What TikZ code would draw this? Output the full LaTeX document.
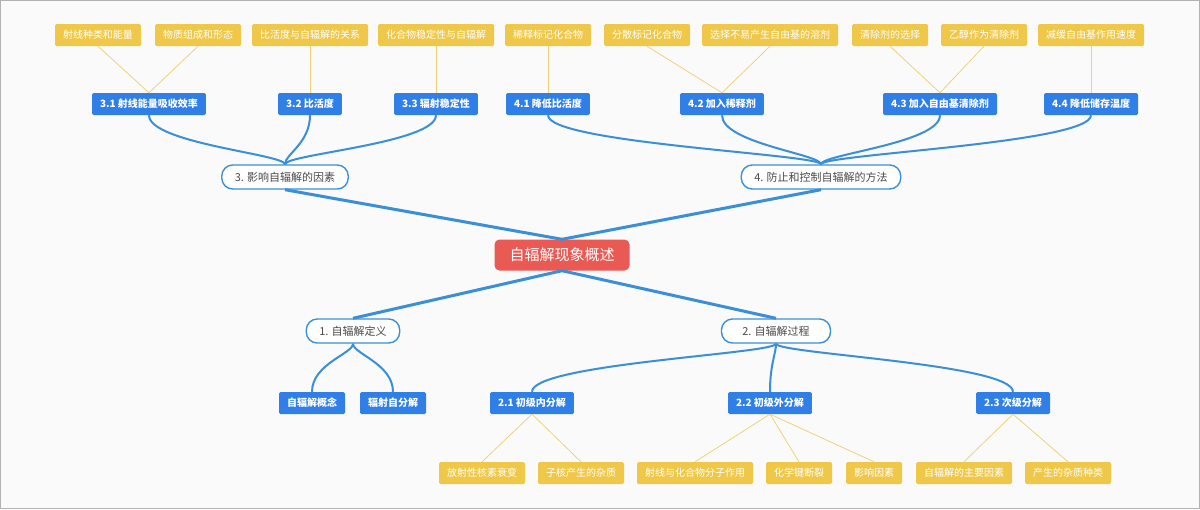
\documentclass[tikz,border=0pt]{standalone}
\usepackage{fontspec}
\setmainfont{Noto Sans CJK SC}
\usepackage{tikz}
\usetikzlibrary{positioning,
				calc}

\definecolor{rootred}{HTML}{E95A54}
\definecolor{topicblue}{HTML}{3A8FD6}
\definecolor{branchblue}{HTML}{2F7FE6}
\definecolor{leafyellow}{HTML}{EFC84A}
\definecolor{leafline}{HTML}{F0D27E}
\definecolor{pilltext}{HTML}{4A4A4A}

\begin{document}
\begin{tikzpicture}[x=1pt,y=-1pt,
		root/.style={fill=rootred, text=white, rounded corners=5pt,
			font=\fontsize{15}{18}\selectfont, minimum height=31pt, inner xsep=15pt},
		topic/.style={draw=topicblue, line width=1.4pt, fill=white, text=pilltext,
			rounded corners=11pt, font=\fontsize{11}{13}\selectfont,
			minimum height=24pt, inner xsep=13pt},
		branch/.style={fill=branchblue, text=white, rounded corners=1.5pt,
			font=\fontsize{10}{12}\selectfont\bfseries, minimum height=22pt, inner xsep=8pt},
		leaf/.style={fill=leafyellow, text=white, rounded corners=1.5pt,
			font=\fontsize{10}{12}\selectfont, minimum height=22pt, inner xsep=8pt},
		main link/.style={draw=topicblue, line width=3pt},
		branch link/.style={draw=topicblue, line width=2pt},
		leaf link/.style={draw=leafline, line width=0.8pt}
		]
		% frame
		\useasboundingbox (0,0) rectangle (1200,509);
		\fill[gray!4] (0,0) rectangle (1200,509);
		\draw[gray!60, line width=1.2pt] (0.6,0.6) rectangle (1199.4,508.4);

		% centre and topics
		\node[root] (root) at (562,255) {自辐解现象概述};
		\node[topic] (t3) at (285,177) {3. 影响自辐解的因素};
		\node[topic] (t4) at (821,177) {4. 防止和控制自辐解的方法};
		\node[topic] (t1) at (353,331) {1. 自辐解定义};
		\node[topic, minimum width=109pt] (t2) at (776,331) {2. 自辐解过程};

		\foreach \t in {t3, t4}
			\draw[main link] (root.north) -- (\t.south);
		\foreach \t in {t1, t2}
			\draw[main link] (root.south) -- (\t.north);

		% branches
		\foreach \name/\x/\y/\txt in {b31/149/104/3.1 射线能量吸收效率, b32/310/104/3.2 比活度,
				b33/436/104/3.3 辐射稳定性, b41/548/104/4.1 降低比活度,
				b42/722/104/4.2 加入稀释剂, b43/940/104/4.3 加入自由基清除剂,
				b44/1091/104/4.4 降低储存温度, b11/312/403/自辐解概念,
				b12/393/403/辐射自分解, b21/532/403/2.1 初级内分解,
				b22/770/403/2.2 初级外分解, b23/1013/403/2.3 次级分解}
			\node[branch] (\name) at (\x,\y) {\txt};

		\foreach \p/\c in {t3/b31, t3/b32, t3/b33, t4/b41, t4/b42, t4/b43, t4/b44}
			\draw[branch link] (\c.south) .. controls ($(\c.south)+(0,28)$) and ($(\p.north)+(0,-10)$) .. (\p.north);
		\foreach \p/\c in {t1/b11, t1/b12, t2/b21, t2/b22, t2/b23}
			\draw[branch link] (\p.south) .. controls ($(\p.south)+(0,10)$) and ($(\c.north)+(0,-28)$) .. (\c.north);

		% leaves
		\foreach \name/\x/\y/\txt/\b in {l1/98/35/射线种类和能量/b31, l2/198/35/物质组成和形态/b31,
				l3/310/35/比活度与自辐解的关系/b32, l4/436/35/化合物稳定性与自辐解/b33,
				l5/548/35/稀释标记化合物/b41, l6/647/35/分散标记化合物/b42,
				l7/770/35/选择不易产生自由基的溶剂/b42, l8/890/35/清除剂的选择/b43,
				l9/984/35/乙醇作为清除剂/b43, l10/1091/35/减缓自由基作用速度/b44}
			{
			\node[leaf] (\name) at (\x,\y) {\txt};
			\draw[leaf link] (\name.south) -- (\b.north);
			}
		\foreach \name/\x/\y/\txt/\b in {m1/482/473/放射性核素衰变/b21, m2/581/473/子核产生的杂质/b21,
				m3/695/473/射线与化合物分子作用/b22, m4/799/473/化学键断裂/b22,
				m5/874/473/影响因素/b22, m6/964/473/自辐解的主要因素/b23,
				m7/1068/473/产生的杂质种类/b23}
			{
			\node[leaf] (\name) at (\x,\y) {\txt};
			\draw[leaf link] (\b.south) -- (\name.north);
			}
	\end{tikzpicture}
\end{document}
